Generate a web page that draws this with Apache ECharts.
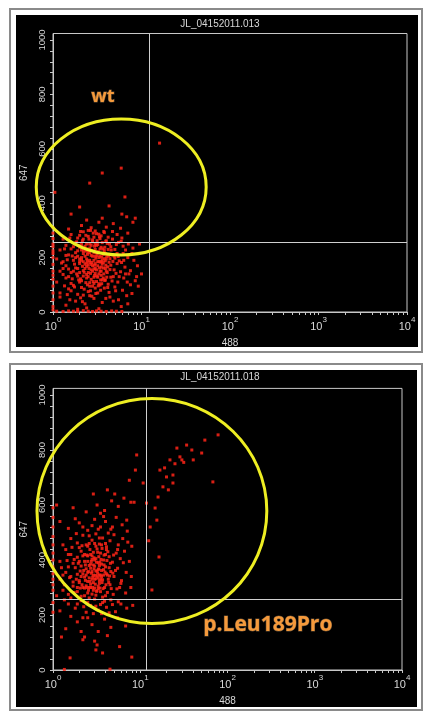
<!DOCTYPE html>
<html><head><meta charset="utf-8">
<script src="https://cdn.jsdelivr.net/npm/echarts@6/dist/echarts.min.js"></script>
<style>html,body{margin:0;padding:0;background:#fff}#c{width:427px;height:711px}</style>
</head><body><div id="c"></div>
<script>
const titles = ['JL_04152011.013', 'JL_04152011.018'];
const xName = '488';
const yName = '647';
const yTickLabels = [0, 200, 400, 600, 800, 1000];
const xDecades = [1, 10, 100, 1000, 10000];
const quadX = [12.2, 11.6];
const quadY = [257, 258];
const gateLabels = ['wt', 'p.Leu189Pro'];
const gateCenters = [[5.9, 460], [13.6, 578]];
const gateRadiiDecades = [0.96, 1.317];
const gateRadiiY = [250, 409];
const gateLabelPos = [[3.67, 790], [290, 164]];

const wtPoints = [
[1,8],[1,20],[1,45],[1,70],[1,95],[1,120],[1,135],[1,150],[1,175],[1,200],[1,215],[1,225],[1,240],[1,250],[1,270],[1,290],[1,310],
[1.1,3],[1.3,2],[1.5,4],[1.7,3],[1.9,2],[2.2,5],[2.5,3],[2.8,2],[3.1,4],[3.5,3],[4,2],[4.6,4],[5.2,3],[6,2],
[1.4,25],[1.8,40],[2.3,30],[2.9,50],[3.6,35],[4.4,55],[5.5,45],[7,30],[1.2,55],[2.6,60],
[1.2,70],[1.5,85],[1.9,65],[2.1,90],[2.5,75],[2.8,95],[3.2,70],[3.8,88],[4.3,72],[5,92],[6.1,80],[7.8,68],[1.7,98],[3.4,99],[2.2,62],
[1.1,110],[1.4,125],[1.6,105],[1.9,132],[2.1,115],[2.4,138],[2.6,108],[2.9,128],[3.1,112],[3.5,135],[3.9,118],[4.2,102],[4.8,130],[5.4,110],[6.3,125],[7.2,140],[8.5,115],[1.3,138],[2.7,120],[3.3,104],
[1.2,150],[1.4,170],[1.6,145],[1.8,162],[2,178],[2.2,152],[2.4,168],[2.5,145],[2.7,175],[2.9,158],[3,142],[3.2,170],[3.4,150],[3.6,176],[3.9,160],[4.1,145],[4.5,172],[4.9,155],[5.3,178],[5.8,148],[6.5,165],[7.5,152],[9,170],[1.5,158],[2.3,176],[2.8,150],[3.7,162],
[1.1,195],[1.3,185],[1.5,210],[1.7,190],[1.9,205],[2,185],[2.2,215],[2.4,195],[2.6,182],[2.7,208],[2.9,190],[3.1,218],[3.3,200],[3.5,185],[3.7,212],[4,195],[4.3,183],[4.6,210],[5,198],[5.6,188],[6.2,215],[7,200],[8.2,190],[2.1,200],[2.5,220],[3,205],[3.9,188],[1.8,218],
[1.2,228],[1.4,245],[1.6,232],[1.8,255],[2,238],[2.2,225],[2.4,250],[2.6,235],[2.8,258],[3,230],[3.2,248],[3.5,238],[3.8,226],[4.1,252],[4.5,240],[5,230],[5.5,256],[6.2,242],[7.1,250],[8,235],[2.3,242],[3.6,255],[1.9,225],
[1.3,268],[1.6,285],[1.9,272],[2.2,295],[2.5,278],[2.8,265],[3.1,288],[3.4,270],[3.8,292],[4.2,275],[4.7,268],[5.3,285],[6,272],[7,290],[2,282],[3,298],
[1.5,305],[2.1,318],[2.7,310],[3.3,330],[4,312],[4.8,325],[5.8,308],[2.4,338],[3.6,345],
[1.85,140],[2.05,122],[2.15,168],[2.35,108],[2.45,188],[2.55,160],[2.65,142],[2.75,226],[2.85,112],[2.95,172],[3.05,198],[3.15,132],[3.25,222],[3.35,162],[3.45,118],[3.55,202],[3.75,140],[3.85,238],[3.95,172],[4.05,128],[4.25,206],[4.4,156],[4.55,228],[4.75,186],[1.95,245],[2.15,262],[2.45,212],[2.95,242],[3.15,262],[2.35,282],[2.65,300],[1.75,176],[1.45,192],[1.65,122],[1.35,96],[2.25,84],[2.75,58],[3.45,80],[4.15,90],[4.65,114],[5.15,142],[5.45,204],[5.95,182],[6.6,140],[2.05,52],[1.55,45],[3.95,50],[4.8,40],[2.4,15],[3.3,12],[1.9,10],[5.9,20],[6.8,60],[7.5,100],[8.8,130],[7.8,215],[6.6,228],[5.2,248],
[2,145],[2.2,132],[2.4,125],[2.6,190],[2.8,205],[3,160],[3.2,185],[3.4,232],[3.6,118],[3.8,196],[2.1,228],[2.3,205],[2.5,172],[2.7,155],[2.9,218],[3.1,245],[3.3,140],[3.5,165],[3.7,182],[2,195],[2.6,250],[3,178],[2.4,232],[1.7,150],[1.8,200],[4,150],[4.2,230],[2.2,268],[2.9,275],[3.5,280],
[1.25,180],[1.35,232],[1.45,64],[1.55,272],[1.65,206],[1.75,92],[1.85,258],[1.95,118],[2.05,296],[2.15,38],[2.25,146],[2.35,224],[2.45,100],[2.55,268],[2.65,78],[2.75,182],[2.85,290],[2.95,134],[3.05,68],[3.15,208],[3.25,96],[3.35,276],[3.45,184],[3.55,104],[3.65,232],[3.75,296],[3.85,116],[3.95,260],[4.05,204],[4.15,166],[4.35,250],[4.5,128],[4.7,296],[4.9,205],[5.1,78],[5.3,215],[5.6,130],[5.9,260],[6.3,190],[6.9,110],
[1.3,160],[1.5,130],[1.7,240],[1.9,160],[2.1,190],[2.3,160],[2.5,130],[2.7,245],[2.9,105],[3.1,155],[3.3,185],[3.5,150],[3.7,125],[3.9,215],[2.2,185],[2.6,218],[3,250],[3.4,205],[2.4,180],[2.8,170],[3.2,128],[3.6,192],[2,110],[2.6,95],[3,88],[1.6,78],[4.4,196],[1.4,208],[2.1,248],[2.5,300],[3.3,286],[4,262],
[2,386],[4.3,390],[6.5,423],[8.5,345],[2.6,474],[3.6,511],[5.9,529],[16,621],[1.6,360],[6.8,350],[1.05,440],[8,330],[9.5,250],[10,140],[9.2,95],[6,360]
];

const mutPoints = [
[1,210],[1,245],[1,290],[1,310],[1,330],[1,350],[1,375],[1,400],[1,425],[1,455],[1,485],[1,520],[1,555],[1,590],
[1.35,2],[1.57,44],[3.2,91],[3.1,73],[3.7,62],[8,47],[4.5,3],[2.2,110],[5.8,85],
[1.4,150],[1.9,175],[2.3,120],[2.8,165],[3.3,140],[3.9,185],[4.6,155],[5.5,190],[1.6,195],[2.5,190],[3,105],[4.2,125],[6.8,160],[1.25,120],[2.1,140],
[1.2,215],[1.5,240],[1.8,225],[2.1,252],[2.4,210],[2.7,235],[3,258],[3.3,218],[3.7,245],[4.1,228],[4.6,255],[5.2,212],[6,240],[7,225],[1.35,255],[2.25,230],[2.9,205],[3.5,238],[4.4,208],[5.6,248],[8.2,235],
[1.1,270],[1.3,290],[1.5,275],[1.7,305],[1.9,285],[2.1,268],[2.3,298],[2.5,280],[2.7,312],[2.9,290],[3.1,272],[3.3,305],[3.5,285],[3.7,265],[3.9,300],[4.2,282],[4.5,310],[4.9,275],[5.4,295],[6,315],[6.8,280],[7.8,300],[2,318],[2.6,262],[3,298],[3.4,315],[4,270],[1.6,262],[2.4,306],[3.2,288],[2.8,276],
[1.2,330],[1.4,355],[1.6,340],[1.8,372],[2,325],[2.2,350],[2.4,368],[2.6,335],[2.8,358],[3,378],[3.2,342],[3.4,325],[3.6,362],[3.8,345],[4,375],[4.3,330],[4.6,358],[5,340],[5.5,370],[6.1,325],[6.9,355],[7.9,340],[2.1,378],[2.5,322],[2.9,345],[3.3,365],[3.7,328],[4.1,350],[2.7,370],[3.1,332],[1.9,348],[2.3,338],[3.5,345],[4.4,372],
[1.2,395],[1.5,420],[1.7,388],[1.9,410],[2.1,432],[2.3,395],[2.5,415],[2.7,385],[2.9,428],[3.1,405],[3.3,390],[3.5,425],[3.8,400],[4.1,438],[4.4,412],[4.8,392],[5.3,425],[5.9,405],[6.6,432],[7.5,395],[2.2,415],[2.8,402],[3.6,385],[4,420],[1.4,438],
[1.3,455],[1.6,478],[1.9,462],[2.2,490],[2.5,450],[2.8,472],[3.1,495],[3.4,458],[3.7,480],[4.1,448],[4.5,470],[5,492],[5.6,455],[6.3,478],[7.2,465],[2,445],[3,460],[4.3,498],[2.6,488],[8,450],
[1.5,515],[2,535],[2.5,508],[3,548],[3.5,520],[4,540],[4.6,512],[5.3,555],[6.2,528],[7,545],[2.8,525],[3.8,558],[1.8,550],
[1.7,590],[2.4,575],[3.2,600],[3.9,580],[4.7,615],[5.6,595],[6.5,625],[2.9,640],[4.2,655],[5.1,640],[7.8,610],[3.5,570],
[2.45,300],[2.65,322],[2.85,338],[3.05,312],[3.25,352],[3.45,298],[3.65,318],[3.85,382],[2.55,358],[2.75,395],[2.95,368],[3.15,392],[3.35,412],[3.55,402],[2.35,382],[2.15,310],[2.05,360],[1.85,330],[1.75,402],[4.15,398],[4.35,318],[4.55,388],[4.85,352],[2.6,300],[3,330],[3.4,345],[2.8,415],[3.2,440],[2.4,455],[3.6,455],
[1.25,372],[1.35,310],[1.45,398],[1.55,336],[1.65,446],[1.75,282],[1.85,496],[1.95,388],[2.05,298],[2.15,452],[2.25,362],[2.35,326],[2.45,418],[2.55,290],[2.65,438],[2.75,352],[2.85,300],[2.95,408],[3.05,344],[3.15,286],[3.25,428],[3.35,368],[3.45,392],[3.55,330],[3.65,442],[3.75,296],[3.85,418],[3.95,356],[4.05,310],[4.25,430],[4.45,342],[4.65,296],[4.95,418],[5.2,362],[5.5,438],[5.8,300],[6.4,390],[7.1,505],[4.8,520],[3.3,512],[2.2,520],[1.6,420],
[2.3,270],[2.6,380],[2.8,330],[3,400],[3.2,360],[3.4,380],[2.4,345],[2.7,420],[3.1,450],[3.6,340],[2.9,318],[3.3,296],[2.5,395],[2,395],[2.2,300],[3.8,365],[4.2,345],[2.6,460],[3.4,480],[4,460],[1.9,240],[2.5,245],[3.1,232],[3.9,250],[2.2,190],[3.6,205],[4.8,238],[1.3,345],[1.5,375],[1.7,320],[1.9,300],[2.1,340],[2.3,420],[2.5,355],[2.7,300],[2.9,382],[3.1,360],[3.3,335],
[9.1,782],[8.8,727],[10.8,680],[11.8,607],[16.4,411],[13.6,291],[16.8,727],[18.2,666],[16,629],[20,702],[21.9,764],[23.7,709],[26.3,807],[28.5,775],[30,764],[31.5,755],[34,818],[39,800],[40.5,764],[55,836],[50.6,789],[78,855],[68,684],[15.5,545],[23.7,680],[21,655],[14.8,589],[19,735],[25,750],[13,520],[12.5,470],[7.5,690],[8.5,610],[1.2,540],[1.1,600]
];

const seriesData = [wtPoints, mutPoints];
const grids = [
  {left: 53, right: 20, top: 33.5, bottom: 399},
  {left: 53, right: 25, top: 388.4, bottom: 41}
];
const panels = [
  {x: 10, y: 9, w: 412, h: 343, bx: 16, by: 15, bw: 402, bh: 332},
  {x: 10, y: 364, w: 412, h: 346, bx: 16, by: 370, bw: 401, bh: 337}
];
const titlePos = [[220, 24], [220, 377]];

// tick value lists (axis furniture)
const xMinorTicks = [];
for (let d = 0; d < xDecades.length - 1; d++) for (let m = 1; m < 10; m++) xMinorTicks.push(xDecades[d] * m);
xMinorTicks.push(xDecades[xDecades.length - 1]);
const yMinorTicks = [];
for (let v = 0; v <= 1000; v += 40) yMinorTicks.push(v);

const labelColor = '#d8d8d8';
const lineColor = '#c8c8c8';

const chart = echarts.init(document.getElementById('c'), null, {renderer: 'canvas'});

function xAxisOpt(i) {
  return {
    type: 'log', gridIndex: i, min: 1, max: 10000, logBase: 10,
    name: xName, nameLocation: 'middle', nameGap: 26,
    nameTextStyle: {color: labelColor, fontSize: 10, fontFamily: 'Liberation Sans'},
    axisLine: {show: true, lineStyle: {color: lineColor, width: 1}},
    axisTick: {show: true, length: 3, inside: false, customValues: xMinorTicks, lineStyle: {color: lineColor}},
    splitLine: {show: false},
    axisLabel: {
      show: true, margin: 4, customValues: xDecades,
      formatter: v => '{b|10}{s|' + Math.round(Math.log10(v)) + '}',
      rich: {
        b: {fontSize: 11, color: labelColor, fontFamily: 'Liberation Sans', verticalAlign: 'bottom', lineHeight: 16},
        s: {fontSize: 8, color: labelColor, fontFamily: 'Liberation Sans', verticalAlign: 'top', lineHeight: 10}
      }
    }
  };
}
function yAxisOpt(i) {
  return {
    type: 'value', gridIndex: i, min: 0, max: 1024,
    name: yName, nameLocation: 'middle', nameGap: 24, nameRotate: 90,
    nameTextStyle: {color: labelColor, fontSize: 10, fontFamily: 'Liberation Sans'},
    axisLine: {show: true, lineStyle: {color: lineColor, width: 1}},
    axisTick: {show: true, length: 3, inside: false, customValues: yMinorTicks, lineStyle: {color: lineColor}},
    splitLine: {show: false},
    axisLabel: {show: true, rotate: 90, margin: 6, customValues: yTickLabels, formatter: v => String(v),
      color: labelColor, fontSize: 9.5, fontFamily: 'Liberation Sans'}
  };
}

const option = {
  backgroundColor: '#ffffff',
  animation: false,
  grid: grids.map(g => Object.assign({show: true, borderColor: lineColor, borderWidth: 1, backgroundColor: 'transparent'}, g)),
  xAxis: [xAxisOpt(0), xAxisOpt(1)],
  yAxis: [yAxisOpt(0), yAxisOpt(1)],
  series: seriesData.map((d, i) => ({
    type: 'scatter', xAxisIndex: i, yAxisIndex: i, data: d,
    symbol: 'rect', symbolSize: 3,
    itemStyle: {color: '#ff2418', opacity: 0.85},
    silent: true, z: 3,
    markLine: {
      silent: true, symbol: 'none', label: {show: false},
      lineStyle: {color: '#d0d0d0', width: 1, type: 'solid'},
      data: [{xAxis: quadX[i]}, {yAxis: quadY[i]}]
    }
  }))
};
chart.setOption(option);

const graphics = [];
panels.forEach((p, i) => {
  graphics.push({type: 'rect', id: 'frame' + i, z: -10, shape: {x: p.x, y: p.y, width: p.w, height: p.h}, style: {fill: '#ffffff', stroke: '#8a8a8a', lineWidth: 2}});
  graphics.push({type: 'rect', id: 'bg' + i, z: -9, shape: {x: p.bx, y: p.by, width: p.bw, height: p.bh}, style: {fill: '#000000'}});
  graphics.push({type: 'text', id: 'title' + i, z: 5, x: titlePos[i][0], y: titlePos[i][1],
    style: {text: titles[i], fill: labelColor, fontSize: 10, fontFamily: 'Liberation Sans', align: 'center', verticalAlign: 'middle'}});
  const c = chart.convertToPixel({gridIndex: i}, gateCenters[i]);
  const ex = chart.convertToPixel({gridIndex: i}, [gateCenters[i][0] * Math.pow(10, gateRadiiDecades[i]), gateCenters[i][1] + gateRadiiY[i]]);
  graphics.push({type: 'ellipse', id: 'gate' + i, z: 10, shape: {cx: c[0], cy: c[1], rx: ex[0] - c[0], ry: c[1] - ex[1]},
    style: {fill: 'none', stroke: '#eeee22', lineWidth: 3}});
  const lp = chart.convertToPixel({gridIndex: i}, gateLabelPos[i]);
  graphics.push({type: 'text', id: 'glabel' + i, z: 11, x: lp[0], y: lp[1],
    style: {text: gateLabels[i], fill: '#f59a3c', fontSize: i === 0 ? 18 : 21, fontWeight: 'bold', fontFamily: 'Open Sans',
      align: 'center', verticalAlign: 'middle', stroke: 'rgba(255,200,140,0.35)', lineWidth: 1}});
});
chart.setOption({graphic: graphics});
</script></body></html>
